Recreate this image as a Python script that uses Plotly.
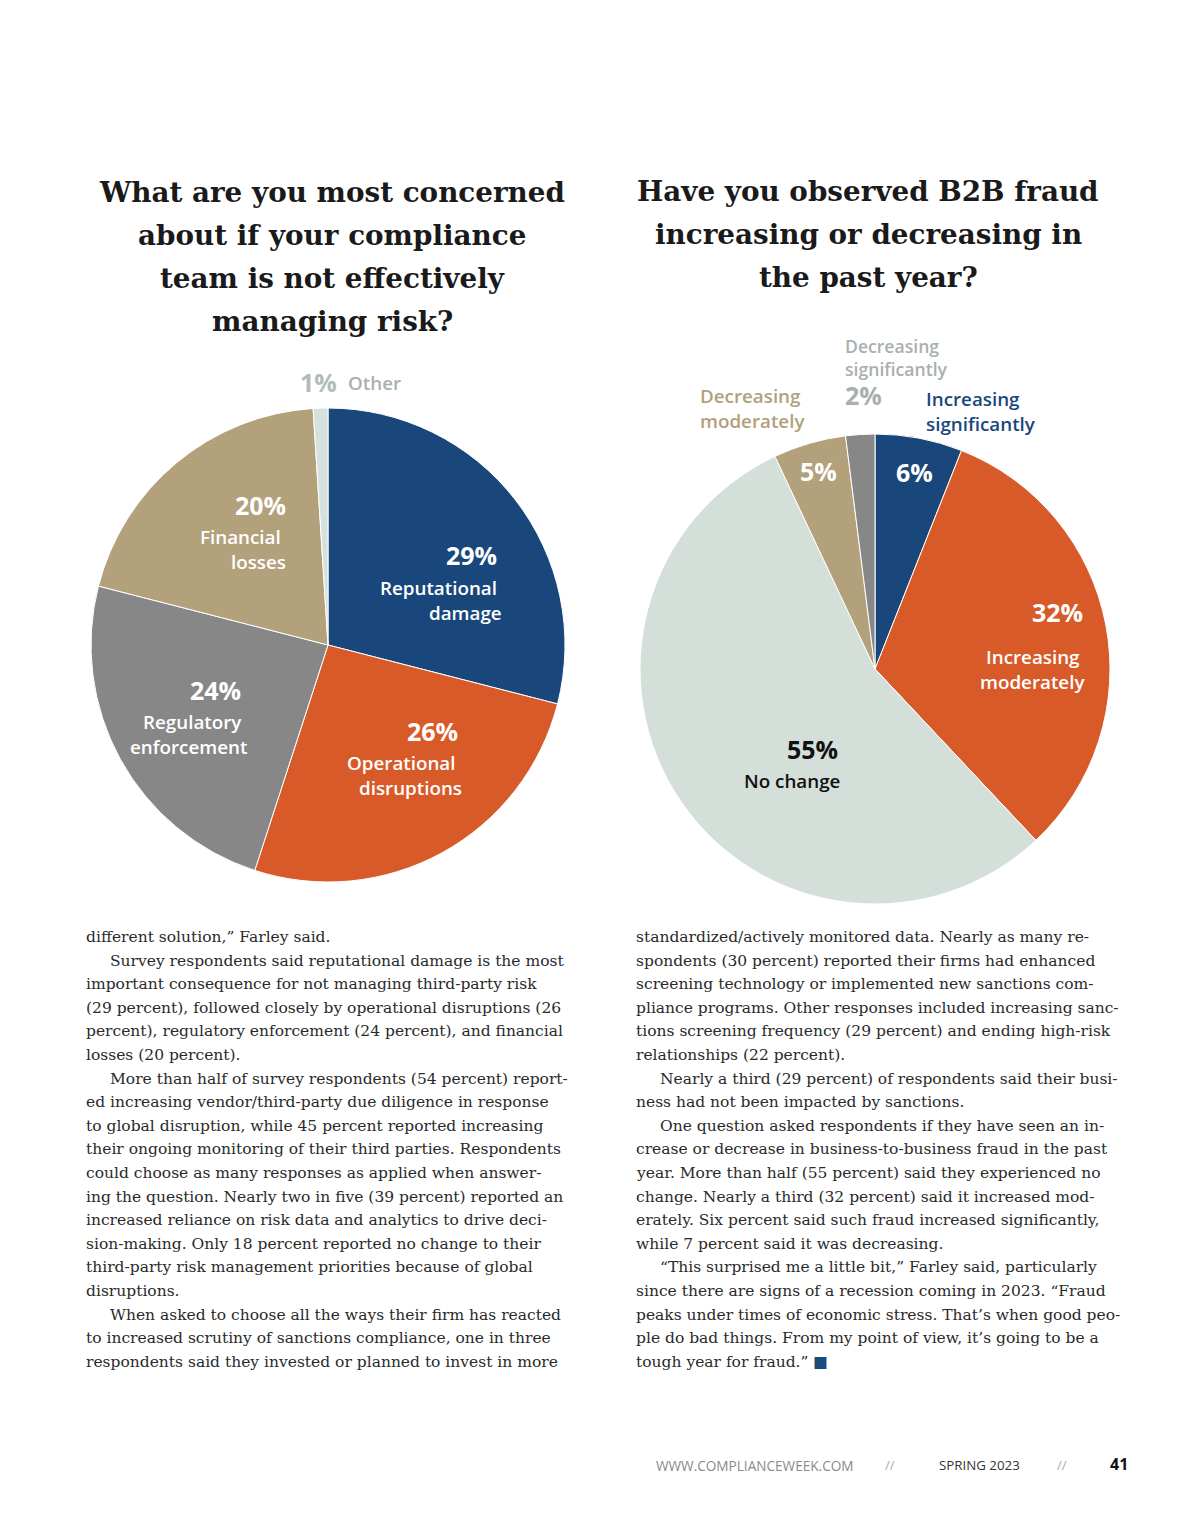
import plotly.graph_objects as go

# page is 1200x1530; the html body adds an 8px margin, so the figure is offset
OX, OY = 8, 8
W, H = 1192, 1522

# ---------------- data ----------------
concern_labels = ["Reputational damage", "Operational disruptions", "Regulatory enforcement",
                  "Financial losses", "Other"]
concern_values = [29, 26, 24, 20, 1]

fraud_labels = ["Increasing significantly", "Increasing moderately", "No change",
                "Decreasing moderately", "Decreasing significantly"]
fraud_values = [6, 32, 55, 5, 2]

title_left = ["What are you most concerned", "about if your compliance",
              "team is not effectively", "managing risk?"]
title_right = ["Have you observed B2B fraud", "increasing or decreasing in", "the past year?"]

body_left = [
    (False, "different solution,” Farley said."),
    (True, "Survey respondents said reputational damage is the most"),
    (False, "important consequence for not managing third-party risk"),
    (False, "(29 percent), followed closely by operational disruptions (26"),
    (False, "percent), regulatory enforcement (24 percent), and financial"),
    (False, "losses (20 percent)."),
    (True, "More than half of survey respondents (54 percent) report-"),
    (False, "ed increasing vendor/third-party due diligence in response"),
    (False, "to global disruption, while 45 percent reported increasing"),
    (False, "their ongoing monitoring of their third parties. Respondents"),
    (False, "could choose as many responses as applied when answer-"),
    (False, "ing the question. Nearly two in five (39 percent) reported an"),
    (False, "increased reliance on risk data and analytics to drive deci-"),
    (False, "sion-making. Only 18 percent reported no change to their"),
    (False, "third-party risk management priorities because of global"),
    (False, "disruptions."),
    (True, "When asked to choose all the ways their firm has reacted"),
    (False, "to increased scrutiny of sanctions compliance, one in three"),
    (False, "respondents said they invested or planned to invest in more"),
]
body_right = [
    (False, "standardized/actively monitored data. Nearly as many re-"),
    (False, "spondents (30 percent) reported their firms had enhanced"),
    (False, "screening technology or implemented new sanctions com-"),
    (False, "pliance programs. Other responses included increasing sanc-"),
    (False, "tions screening frequency (29 percent) and ending high-risk"),
    (False, "relationships (22 percent)."),
    (True, "Nearly a third (29 percent) of respondents said their busi-"),
    (False, "ness had not been impacted by sanctions."),
    (True, "One question asked respondents if they have seen an in-"),
    (False, "crease or decrease in business-to-business fraud in the past"),
    (False, "year. More than half (55 percent) said they experienced no"),
    (False, "change. Nearly a third (32 percent) said it increased mod-"),
    (False, "erately. Six percent said such fraud increased significantly,"),
    (False, "while 7 percent said it was decreasing."),
    (True, "“This surprised me a little bit,” Farley said, particularly"),
    (False, "since there are signs of a recession coming in 2023. “Fraud"),
    (False, "peaks under times of economic stress. That’s when good peo-"),
    (False, "ple do bad things. From my point of view, it’s going to be a"),
    (False, "tough year for fraud.” <span style='color:#1a4a7e'>■</span>"),
]

footer_site = "WWW.COMPLIANCEWEEK.COM"
footer_issue = "SPRING 2023"
footer_page = "41"

# ---------------- styles ----------------
BLUE, ORANGE, GREY, TAN = "#1a477b", "#d95a29", "#878787", "#b3a17c"
LIGHT, OTHER = "#d4dfda", "#d6e0dc"
concern_colors = [BLUE, ORANGE, GREY, TAN, OTHER]
fraud_colors = [BLUE, ORANGE, LIGHT, TAN, GREY]


def px(x):
    return (x - OX) / W


def py(y):
    return 1 - (y - OY) / H


def dom(cx, cy, r):
    return dict(x=[px(cx - r), px(cx + r)], y=[py(cy + r), py(cy - r)])


fig = go.Figure()
fig.add_trace(go.Pie(labels=concern_labels, values=concern_values, sort=False,
                     direction="clockwise", rotation=0, textinfo="none",
                     marker=dict(colors=concern_colors, line=dict(color="white", width=1)),
                     domain=dom(328, 645, 237), showlegend=False, hoverinfo="label+percent"))
fig.add_trace(go.Pie(labels=fraud_labels, values=fraud_values, sort=False,
                     direction="clockwise", rotation=0, textinfo="none",
                     marker=dict(colors=fraud_colors, line=dict(color="white", width=1)),
                     domain=dom(875, 669, 235), showlegend=False, hoverinfo="label+percent"))

ann = []


def add(x, y, text, size, color="#222", xanchor="center", family="Open Sans", weight=None,
        align=None):
    f = dict(family=family, size=size, color=color)
    if weight:
        f["weight"] = weight
    if xanchor == "left":
        x -= 2
    elif xanchor == "right":
        x += 2
    ann.append(dict(x=px(x), y=py(y), xref="paper", yref="paper", text=text, showarrow=False,
                    xanchor=xanchor, yanchor="middle", font=f, align=align or xanchor))


# titles
TF = "DejaVu Serif"
for i, t in enumerate(title_left):
    add(332, 192 + i * 43.3, f"<b>{t}</b>", 27.8, "#1a1a1a", family=TF)
for i, t in enumerate(title_right):
    add(868, 191 + i * 43.3, f"<b>{t}</b>", 27.8, "#1a1a1a", family=TF)

PCT = 25
LAB = 18.8
W6 = 600
# pie 1 labels
add(300, 382, f"<b>{concern_values[4]}%</b>", PCT, "#b4bbbb", "left")
add(348, 383, concern_labels[4], LAB, "#a9b0b0", "left", weight=W6)

add(286, 505, f"<b>{concern_values[3]}%</b>", PCT, "white", "right")
add(281, 537, "Financial", LAB, "white", "right", weight=W6)
add(286, 562, "losses", LAB, "white", "right", weight=W6)

add(497, 555, f"<b>{concern_values[0]}%</b>", PCT, "white", "right")
add(497, 588, "Reputational", LAB, "white", "right", weight=W6)
add(502, 613, "damage", LAB, "white", "right", weight=W6)

add(241, 690, f"<b>{concern_values[2]}%</b>", PCT, "white", "right")
add(242, 722, "Regulatory", LAB, "white", "right", weight=W6)
add(247, 747, "enforcement", LAB, "white", "right", weight=W6)

add(458, 731, f"<b>{concern_values[1]}%</b>", PCT, "white", "right")
add(456, 763, "Operational", LAB, "white", "right", weight=W6)
add(462, 788, "disruptions", LAB, "white", "right", weight=W6)

# pie 2 labels
add(845, 357, "Decreasing<br>significantly", 17.6, "#a9afaf", "left", weight=W6)
add(845, 395, f"<b>{fraud_values[4]}%</b>", PCT, "#a9afaf", "left")

add(700, 396, "Decreasing", LAB, "#b1a17b", "left", weight=W6)
add(700, 421, "moderately", LAB, "#b1a17b", "left", weight=W6)

add(926, 399, "Increasing", LAB, BLUE, "left", weight=W6)
add(926, 424, "significantly", LAB, BLUE, "left", weight=W6)

add(819, 471, f"<b>{fraud_values[3]}%</b>", PCT, "white")
add(914, 472, f"<b>{fraud_values[0]}%</b>", PCT, "white")

add(1083, 612, f"<b>{fraud_values[1]}%</b>", PCT, "white", "right")
add(1080, 657, "Increasing", LAB, "white", "right", weight=W6)
add(1085, 682, "moderately", LAB, "white", "right", weight=W6)

add(838, 749, f"<b>{fraud_values[2]}%</b>", PCT, "#111", "right")
add(840, 781, "No change", LAB, "#111", "right", weight=W6)

# body text
BF = "DejaVu Serif"
LH = 23.6
BS = 15.5
for i, (ind, t) in enumerate(body_left):
    add(86 + (24 if ind else 0), 937 + i * LH, t, BS, "#2a2a2a", "left", family=BF)
for i, (ind, t) in enumerate(body_right):
    add(636 + (24 if ind else 0), 937 + i * LH, t, BS, "#2a2a2a", "left", family=BF)

# footer
add(656, 1465, footer_site, 13.6, "#8a8a8a", "left", family="Open Sans")
add(890, 1465, "//", 13, "#aaaaaa")
add(939, 1465, footer_issue, 13.3, "#333", "left", family="Open Sans")
add(1062, 1465, "//", 13, "#aaaaaa")
add(1128, 1464, f"<b>{footer_page}</b>", 16, "#111", "right", family="Open Sans")

fig.update_layout(width=W, height=H, margin=dict(l=0, r=0, t=0, b=0),
                  paper_bgcolor="white", plot_bgcolor="white", annotations=ann)

fig.write_html("out.html")
